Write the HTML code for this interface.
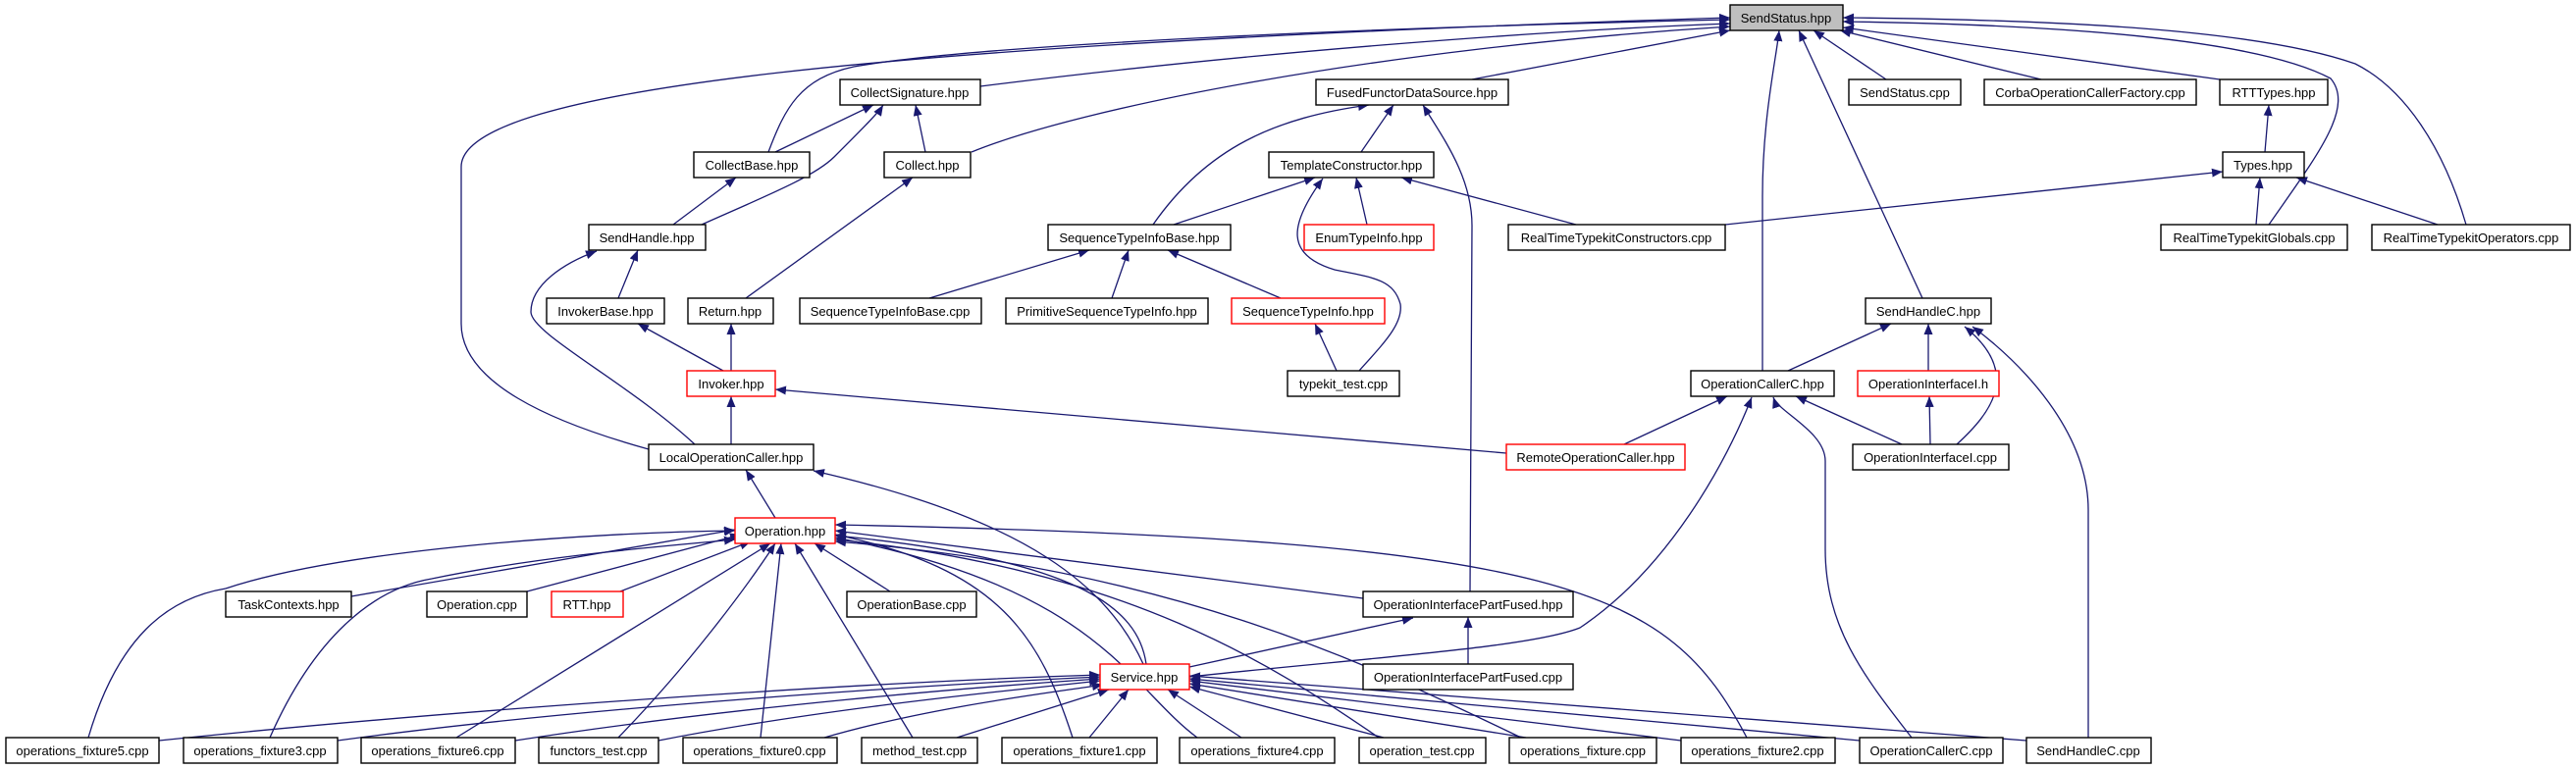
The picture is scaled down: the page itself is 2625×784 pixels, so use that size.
<!DOCTYPE html>
<html><head><meta charset="utf-8"><style>
html,body{margin:0;padding:0;background:#fff;}
svg{display:block;}
text{font-family:"Liberation Sans",sans-serif;font-size:13px;fill:#000;}
.e{fill:none;stroke:#191970;stroke-width:1.3;marker-end:url(#a);}
.n{fill:#fff;stroke:#000;stroke-width:1.4;}
.r{fill:#fff;stroke:#ff0000;stroke-width:1.4;}
</style></head><body>
<svg width="2625" height="784" viewBox="0 0 2625 784" xmlns="http://www.w3.org/2000/svg">
<defs><marker id="a" markerUnits="userSpaceOnUse" markerWidth="12" markerHeight="9" refX="11" refY="4.5" orient="auto"><path d="M0,0 L11,4.5 L0,9 z" fill="#191970"/></marker></defs>
<g>
<path class="e" d="M661,458 C560,430 470,390 470,330 L470,170 C470,90 900,45 1763,18"/>
<path class="e" d="M783,155 C800,110 815,80 870,68 C1000,45 1400,28 1763,20"/>
<path class="e" d="M999,88 C1300,50 1600,30 1763,24"/>
<path class="e" d="M990,155 C1100,110 1400,50 1763,27"/>
<path class="e" d="M1500,81 L1763,31"/>
<path class="e" d="M1922,81 L1848,31"/>
<path class="e" d="M2080,81 L1875,31"/>
<path class="e" d="M2262,81 L1878,28"/>
<path class="e" d="M2312,229 C2360,160 2400,110 2375,80 C2300,40 2100,25 1878,22"/>
<path class="e" d="M2513,229 C2490,150 2450,90 2400,65 C2300,30 2100,20 1878,18"/>
<path class="e" d="M1959,304 L1833,31"/>
<path class="e" d="M1796,378 L1796,200 C1796,120 1810,60 1813,31"/>
<path class="e" d="M790,155 L890,107"/>
<path class="e" d="M943,155 L933,107"/>
<path class="e" d="M715,229 C780,200 830,180 850,160 C880,130 895,115 900,107"/>
<path class="e" d="M686,229 L750,181"/>
<path class="e" d="M630,304 L650,255"/>
<path class="e" d="M708,453 C640,390 541,340 541,318 C541,290 575,268 608,256"/>
<path class="e" d="M760,304 L930,181"/>
<path class="e" d="M737,378 L650,330"/>
<path class="e" d="M745,378 L745,330"/>
<path class="e" d="M745,453 L745,404"/>
<path class="e" d="M1535,462 L790,397"/>
<path class="e" d="M1175,229 C1230,150 1300,120 1395,107"/>
<path class="e" d="M1387,155 L1420,107"/>
<path class="e" d="M1498,603 L1500,230 C1500,180 1470,140 1450,107"/>
<path class="e" d="M1196,229 L1340,181"/>
<path class="e" d="M1385,378 C1410,350 1430,330 1427,310 C1420,285 1400,283 1360,275 C1310,260 1313,230 1348,182"/>
<path class="e" d="M1393,229 L1382,181"/>
<path class="e" d="M1606,229 L1428,181"/>
<path class="e" d="M1758,229 L2265,175"/>
<path class="e" d="M947,304 L1110,255"/>
<path class="e" d="M1133,304 L1150,255"/>
<path class="e" d="M1305,304 L1190,255"/>
<path class="e" d="M1362,378 L1340,330"/>
<path class="e" d="M2308,155 L2312,107"/>
<path class="e" d="M2299,229 L2303,181"/>
<path class="e" d="M2484,229 L2340,181"/>
<path class="e" d="M1822,378 L1927,330"/>
<path class="e" d="M1965,378 L1965,330"/>
<path class="e" d="M1994,453 C2030,420 2060,380 2002,333"/>
<path class="e" d="M2128,752 L2128,520 C2128,440 2060,370 2010,333"/>
<path class="e" d="M1655,453 L1760,404"/>
<path class="e" d="M1938,453 L1830,404"/>
<path class="e" d="M1967,453 L1966,404"/>
<path class="e" d="M1212,690 C1400,670 1560,660 1610,640 C1700,580 1760,470 1785,405"/>
<path class="e" d="M1948,752 C1900,690 1860,640 1860,560 L1860,470 C1860,440 1812,420 1807,405"/>
<path class="e" d="M790,528 L760,479"/>
<path class="e" d="M1165,677 C1130,600 1050,530 829,480"/>
<path class="e" d="M1389,610 L851,541"/>
<path class="e" d="M358,608 L749,540"/>
<path class="e" d="M537,603 L755,545"/>
<path class="e" d="M632,603 L765,552"/>
<path class="e" d="M907,603 L830,554"/>
<path class="e" d="M90,752 C120,650 170,610 230,600 C350,560 600,543 749,541"/>
<path class="e" d="M275,752 C320,650 380,600 440,590 C560,565 700,555 749,550"/>
<path class="e" d="M465,752 L785,554"/>
<path class="e" d="M630,752 C700,680 760,600 790,554"/>
<path class="e" d="M775,752 L796,554"/>
<path class="e" d="M930,752 L810,554"/>
<path class="e" d="M1093,752 C1060,650 1020,580 851,545"/>
<path class="e" d="M1220,752 C1150,700 1120,600 851,548"/>
<path class="e" d="M1405,752 C1300,680 1150,580 851,550"/>
<path class="e" d="M1550,752 C1400,680 1200,580 851,552"/>
<path class="e" d="M1780,752 C1700,600 1600,550 851,535"/>
<path class="e" d="M1168,677 C1160,620 1100,570 851,546"/>
<path class="e" d="M1212,680 L1440,630"/>
<path class="e" d="M1496,677 L1496,629"/>
<path class="e" d="M162,755 C500,720 900,695 1121,688"/>
<path class="e" d="M344,755 C600,720 950,698 1121,690"/>
<path class="e" d="M525,755 C750,720 1000,700 1121,692"/>
<path class="e" d="M671,755 C850,720 1050,702 1121,694"/>
<path class="e" d="M840,752 C950,720 1080,705 1124,698"/>
<path class="e" d="M975,752 L1130,703"/>
<path class="e" d="M1110,752 L1150,703"/>
<path class="e" d="M1265,752 L1190,703"/>
<path class="e" d="M1410,752 L1212,700"/>
<path class="e" d="M1555,752 L1212,697"/>
<path class="e" d="M1713,755 L1212,694"/>
<path class="e" d="M1895,755 L1212,692"/>
<path class="e" d="M2065,755 L1212,689"/>
</g>
<g>
<rect x="1763" y="5" width="115" height="26" fill="#bfbfbf" stroke="#000" stroke-width="1.4"/><text x="1820" y="23" text-anchor="middle">SendStatus.hpp</text>
<rect class="n" x="856" y="81" width="143" height="26"/><text x="927" y="99" text-anchor="middle">CollectSignature.hpp</text>
<rect class="n" x="1341" y="81" width="196" height="26"/><text x="1439" y="99" text-anchor="middle">FusedFunctorDataSource.hpp</text>
<rect class="n" x="1884" y="81" width="114" height="26"/><text x="1941" y="99" text-anchor="middle">SendStatus.cpp</text>
<rect class="n" x="2022" y="81" width="216" height="26"/><text x="2130" y="99" text-anchor="middle">CorbaOperationCallerFactory.cpp</text>
<rect class="n" x="2262" y="81" width="110" height="26"/><text x="2317" y="99" text-anchor="middle">RTTTypes.hpp</text>
<rect class="n" x="707" y="155" width="118" height="26"/><text x="766" y="173" text-anchor="middle">CollectBase.hpp</text>
<rect class="n" x="901" y="155" width="88" height="26"/><text x="945" y="173" text-anchor="middle">Collect.hpp</text>
<rect class="n" x="1293" y="155" width="168" height="26"/><text x="1377" y="173" text-anchor="middle">TemplateConstructor.hpp</text>
<rect class="n" x="2265" y="155" width="83" height="26"/><text x="2306" y="173" text-anchor="middle">Types.hpp</text>
<rect class="n" x="600" y="229" width="119" height="26"/><text x="659" y="247" text-anchor="middle">SendHandle.hpp</text>
<rect class="n" x="1068" y="229" width="186" height="26"/><text x="1161" y="247" text-anchor="middle">SequenceTypeInfoBase.hpp</text>
<rect class="r" x="1329" y="229" width="132" height="26"/><text x="1395" y="247" text-anchor="middle">EnumTypeInfo.hpp</text>
<rect class="n" x="1537" y="229" width="221" height="26"/><text x="1647" y="247" text-anchor="middle">RealTimeTypekitConstructors.cpp</text>
<rect class="n" x="2202" y="229" width="190" height="26"/><text x="2297" y="247" text-anchor="middle">RealTimeTypekitGlobals.cpp</text>
<rect class="n" x="2417" y="229" width="202" height="26"/><text x="2518" y="247" text-anchor="middle">RealTimeTypekitOperators.cpp</text>
<rect class="n" x="557" y="304" width="120" height="26"/><text x="617" y="322" text-anchor="middle">InvokerBase.hpp</text>
<rect class="n" x="701" y="304" width="87" height="26"/><text x="744" y="322" text-anchor="middle">Return.hpp</text>
<rect class="n" x="815" y="304" width="185" height="26"/><text x="907" y="322" text-anchor="middle">SequenceTypeInfoBase.cpp</text>
<rect class="n" x="1025" y="304" width="206" height="26"/><text x="1128" y="322" text-anchor="middle">PrimitiveSequenceTypeInfo.hpp</text>
<rect class="r" x="1255" y="304" width="156" height="26"/><text x="1333" y="322" text-anchor="middle">SequenceTypeInfo.hpp</text>
<rect class="n" x="1901" y="304" width="128" height="26"/><text x="1965" y="322" text-anchor="middle">SendHandleC.hpp</text>
<rect class="r" x="700" y="378" width="90" height="26"/><text x="745" y="396" text-anchor="middle">Invoker.hpp</text>
<rect class="n" x="1312" y="378" width="114" height="26"/><text x="1369" y="396" text-anchor="middle">typekit_test.cpp</text>
<rect class="n" x="1723" y="378" width="146" height="26"/><text x="1796" y="396" text-anchor="middle">OperationCallerC.hpp</text>
<rect class="r" x="1893" y="378" width="144" height="26"/><text x="1965" y="396" text-anchor="middle">OperationInterfaceI.h</text>
<rect class="n" x="661" y="453" width="168" height="26"/><text x="745" y="471" text-anchor="middle">LocalOperationCaller.hpp</text>
<rect class="r" x="1535" y="453" width="182" height="26"/><text x="1626" y="471" text-anchor="middle">RemoteOperationCaller.hpp</text>
<rect class="n" x="1888" y="453" width="159" height="26"/><text x="1967" y="471" text-anchor="middle">OperationInterfaceI.cpp</text>
<rect class="r" x="749" y="528" width="102" height="26"/><text x="800" y="546" text-anchor="middle">Operation.hpp</text>
<rect class="n" x="230" y="603" width="128" height="26"/><text x="294" y="621" text-anchor="middle">TaskContexts.hpp</text>
<rect class="n" x="435" y="603" width="102" height="26"/><text x="486" y="621" text-anchor="middle">Operation.cpp</text>
<rect class="r" x="562" y="603" width="73" height="26"/><text x="598" y="621" text-anchor="middle">RTT.hpp</text>
<rect class="n" x="863" y="603" width="132" height="26"/><text x="929" y="621" text-anchor="middle">OperationBase.cpp</text>
<rect class="n" x="1389" y="603" width="214" height="26"/><text x="1496" y="621" text-anchor="middle">OperationInterfacePartFused.hpp</text>
<rect class="r" x="1121" y="677" width="91" height="26"/><text x="1166" y="695" text-anchor="middle">Service.hpp</text>
<rect class="n" x="1389" y="677" width="214" height="26"/><text x="1496" y="695" text-anchor="middle">OperationInterfacePartFused.cpp</text>
<rect class="n" x="6" y="752" width="156" height="26"/><text x="84" y="770" text-anchor="middle">operations_fixture5.cpp</text>
<rect class="n" x="187" y="752" width="157" height="26"/><text x="265" y="770" text-anchor="middle">operations_fixture3.cpp</text>
<rect class="n" x="368" y="752" width="157" height="26"/><text x="446" y="770" text-anchor="middle">operations_fixture6.cpp</text>
<rect class="n" x="549" y="752" width="122" height="26"/><text x="610" y="770" text-anchor="middle">functors_test.cpp</text>
<rect class="n" x="696" y="752" width="157" height="26"/><text x="774" y="770" text-anchor="middle">operations_fixture0.cpp</text>
<rect class="n" x="878" y="752" width="118" height="26"/><text x="937" y="770" text-anchor="middle">method_test.cpp</text>
<rect class="n" x="1021" y="752" width="158" height="26"/><text x="1100" y="770" text-anchor="middle">operations_fixture1.cpp</text>
<rect class="n" x="1202" y="752" width="158" height="26"/><text x="1281" y="770" text-anchor="middle">operations_fixture4.cpp</text>
<rect class="n" x="1385" y="752" width="129" height="26"/><text x="1449" y="770" text-anchor="middle">operation_test.cpp</text>
<rect class="n" x="1538" y="752" width="150" height="26"/><text x="1613" y="770" text-anchor="middle">operations_fixture.cpp</text>
<rect class="n" x="1713" y="752" width="157" height="26"/><text x="1791" y="770" text-anchor="middle">operations_fixture2.cpp</text>
<rect class="n" x="1895" y="752" width="146" height="26"/><text x="1968" y="770" text-anchor="middle">OperationCallerC.cpp</text>
<rect class="n" x="2065" y="752" width="127" height="26"/><text x="2128" y="770" text-anchor="middle">SendHandleC.cpp</text>
</g>
</svg>
</body></html>
